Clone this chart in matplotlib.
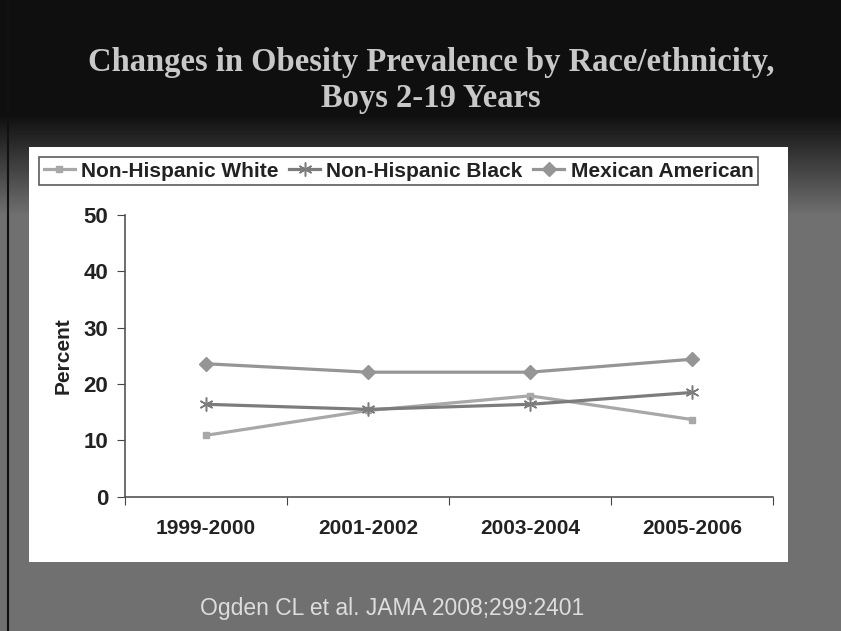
import numpy as np
import matplotlib.pyplot as plt
from matplotlib.patches import Rectangle
from matplotlib.lines import Line2D

periods = ['1999-2000', '2001-2002', '2003-2004', '2005-2006']
nh_white = [10.9, 15.3, 17.9, 13.7]
nh_black = [16.4, 15.5, 16.4, 18.5]
mexican = [23.6, 22.1, 22.1, 24.4]

W, H = 841, 631
fig = plt.figure(figsize=(W / 100, H / 100), dpi=100)

# slide background: black at top fading into grey
bg = fig.add_axes([0, 0, 1, 1])
rows = np.arange(H)
shade = np.clip((rows - 115) / 100.0, 0, 1)
col = 0.06 + shade * (0.44 - 0.06)
grad = np.repeat(col[:, None], W, axis=1)
bg.imshow(grad, cmap='gray', vmin=0, vmax=1, extent=[0, W, H, 0], aspect='auto')
bg.set_xlim(0, W)
bg.set_ylim(H, 0)
bg.axis('off')
bg.add_line(Line2D([8, 8], [0, H], color='#111111', lw=1.5))

# white chart panel
bg.add_patch(Rectangle((29, 147), 759, 415, facecolor='white', edgecolor='none'))

bg.text(431, 62, 'Changes in Obesity Prevalence by Race/ethnicity,', ha='center', va='center',
        family='Liberation Serif', weight='bold', fontsize=23.5, color='#c8c8c8')
bg.text(431, 98, 'Boys 2-19 Years', ha='center', va='center',
        family='Liberation Serif', weight='bold', fontsize=23.5, color='#c8c8c8')
bg.text(392, 608, 'Ogden CL et al. JAMA 2008;299:2401', ha='center', va='center',
        family='Liberation Sans', fontsize=16.5, color='#dddddd')

ax = fig.add_axes([125 / W, 1 - 496.7 / H, 648 / W, (496.7 - 215) / H])
x = np.arange(len(periods))
ax.plot(x, nh_white, color='#a8a8a8', lw=2.3, marker='s', ms=4.5, label='Non-Hispanic White')
ax.plot(x, nh_black, color='#7c7c7c', lw=2.3, marker=(6, 2, 0), ms=10, mew=1.1, label='Non-Hispanic Black')
ax.plot(x, mexican, color='#959595', lw=2.3, marker='D', ms=7, label='Mexican American')

ax.set_xlim(-0.5, 3.5)
ax.set_ylim(0, 50)
ax.set_yticks(range(0, 51, 10))
ax.set_xticks([-0.5, 0.5, 1.5, 2.5, 3.5])
ax.set_xticklabels([])
ax.set_xticks(x, minor=True)
ax.set_xticklabels(periods, minor=True)
ax.tick_params(axis='x', which='minor', length=0, pad=16)
ax.tick_params(axis='x', which='major', length=6, color='#444444', direction='out')
ax.tick_params(axis='y', length=6, color='#444444', pad=6)
for lab in ax.get_xticklabels(minor=True):
    lab.set_fontfamily('Liberation Sans')
    lab.set_fontweight('bold')
    lab.set_fontsize(15)
    lab.set_color('#222222')
for lab in ax.get_yticklabels():
    lab.set_fontfamily('Liberation Sans')
    lab.set_fontweight('bold')
    lab.set_fontsize(16)
    lab.set_color('#222222')
ax.set_ylabel('Percent', family='Liberation Sans', weight='bold', fontsize=15, color='#222222', labelpad=8)
for s in ['top', 'right']:
    ax.spines[s].set_visible(False)
for s in ['left', 'bottom']:
    ax.spines[s].set_color('#555555')
    ax.spines[s].set_linewidth(1.2)
ax.set_facecolor('none')

leg = fig.legend(loc='center', bbox_to_anchor=(398.5 / W, 1 - 171 / H), ncol=3, frameon=True,
                 fancybox=False, handlelength=1.5, handletextpad=0.3, columnspacing=0.5,
                 borderpad=0.2, prop={'family': 'Liberation Sans', 'weight': 'bold', 'size': 15})
leg.get_frame().set_edgecolor('#333333')
leg.get_frame().set_linewidth(1.2)
for t in leg.get_texts():
    t.set_color('#222222')

fig.savefig('out.png', dpi=100)
